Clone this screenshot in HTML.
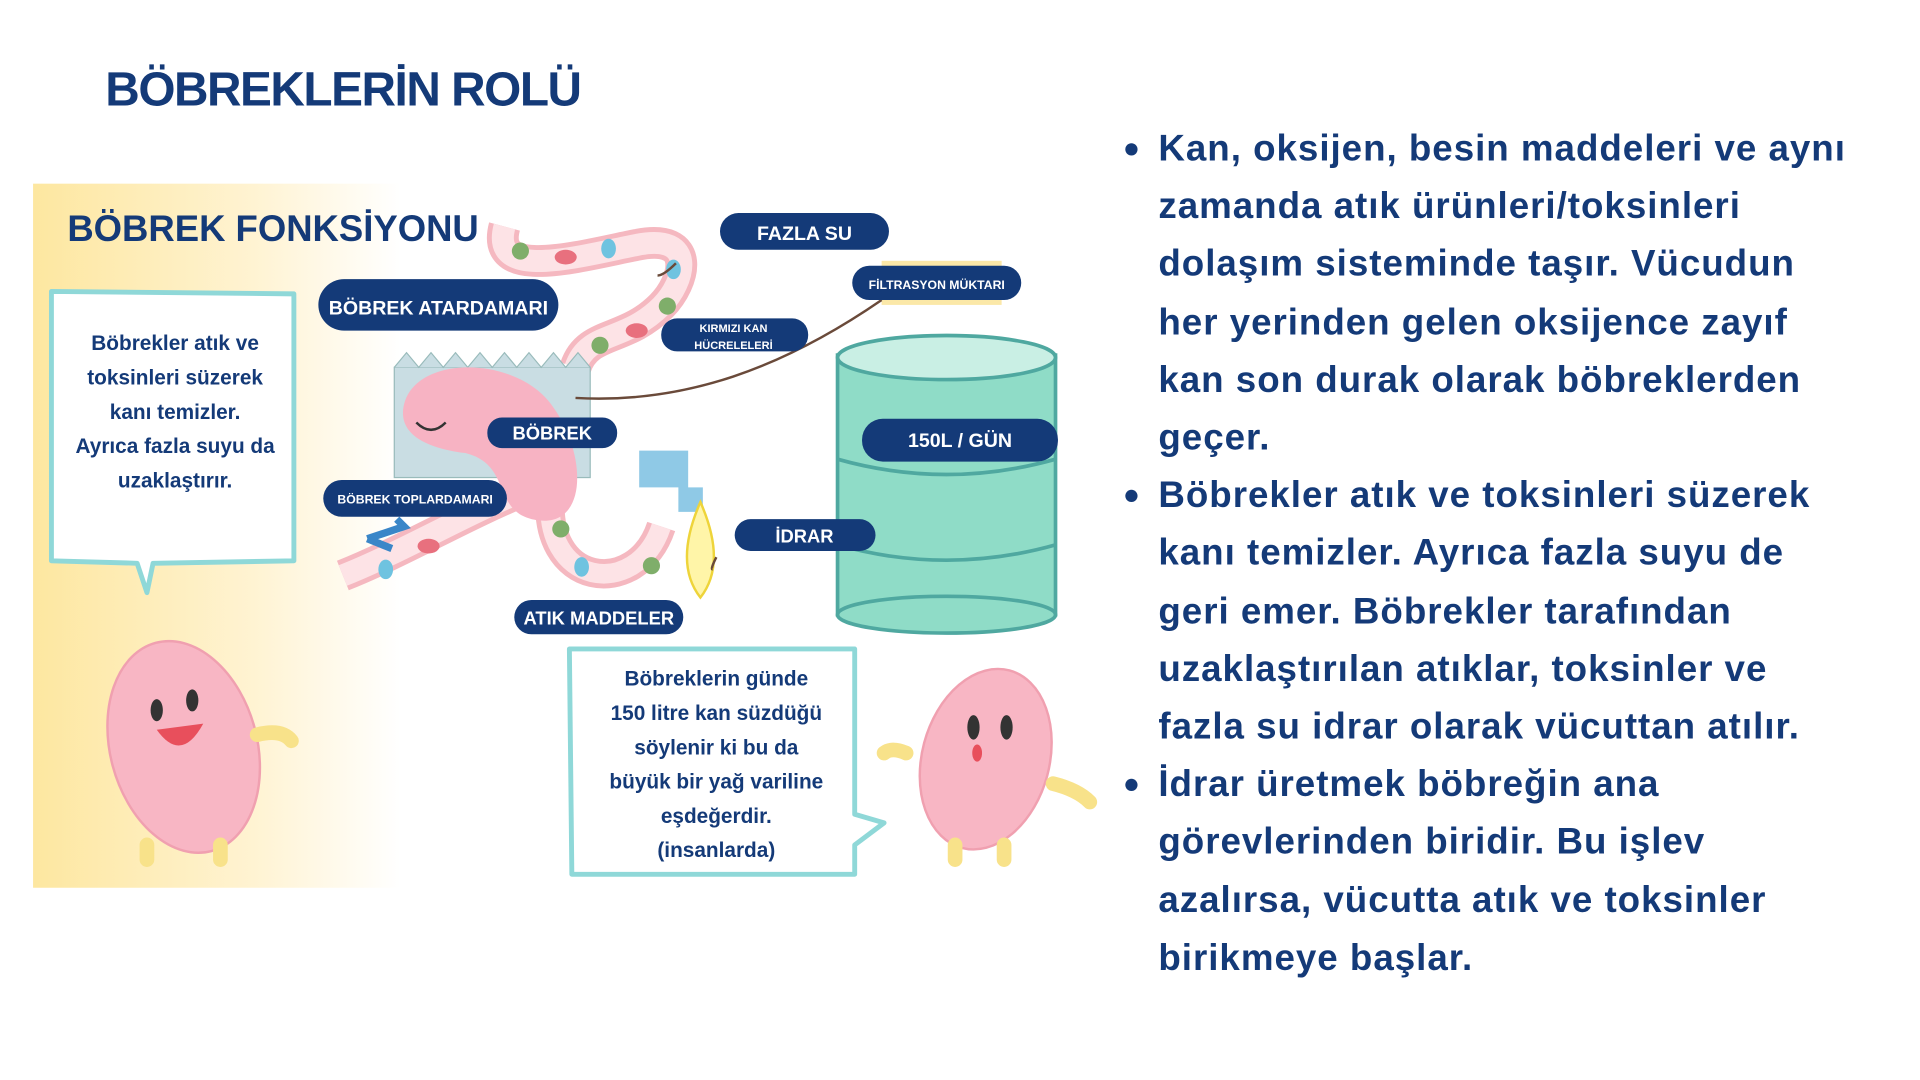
<!DOCTYPE html>
<html><head><meta charset="utf-8"><style>
html,body{margin:0;padding:0;background:#fff;overflow:hidden;width:1920px;height:1080px}
#w{position:absolute;left:0;top:0;width:1568px;height:882px;transform:scale(1.22449);transform-origin:0 0;font-family:"Liberation Sans",sans-serif;color:#143a78;font-weight:bold}
.t{position:absolute;white-space:nowrap}
#r{position:absolute;top:98px;font-size:30px;line-height:47.2px}
#r div{white-space:nowrap;letter-spacing:0.8px}
.b{position:relative}
.b:before{content:"";position:absolute;left:-27px;top:19px;width:10px;height:10px;border-radius:50%;background:#143a78}
</style></head><body><div id="w">
<div class="t" style="left:86px;top:52px;font-size:39px;letter-spacing:-1.2px">BÖBREKLERİN ROLÜ</div>
<div id="r" style="left:946px">
<div class="b">Kan, oksijen, besin maddeleri ve aynı</div>
<div>zamanda atık ürünleri/toksinleri</div>
<div>dolaşım sisteminde taşır. Vücudun</div>
<div>her yerinden gelen oksijence zayıf</div>
<div>kan son durak olarak böbreklerden</div>
<div>geçer.</div>
<div class="b">Böbrekler atık ve toksinleri süzerek</div>
<div>kanı temizler. Ayrıca fazla suyu de</div>
<div>geri emer. Böbrekler tarafından</div>
<div>uzaklaştırılan atıklar, toksinler ve</div>
<div>fazla su idrar olarak vücuttan atılır.</div>
<div class="b">İdrar üretmek böbreğin ana</div>
<div>görevlerinden biridir. Bu işlev</div>
<div>azalırsa, vücutta atık ve toksinler</div>
<div>birikmeye başlar.</div>
</div>
<svg style="position:absolute;left:0;top:0" width="920" height="882" viewBox="0 0 920 882">
<defs><linearGradient id="y" x1="0" x2="1"><stop offset="0" stop-color="#fde7a0"/><stop offset="0.6" stop-color="#fff3d2"/><stop offset="1" stop-color="#fff"/></linearGradient></defs>
<rect x="27" y="150" width="300" height="575" fill="url(#y)"/>
<path d="M412 185 C400 230 470 210 520 200 C570 190 560 230 540 250 C510 280 480 270 470 300" stroke="#f5b8c0" stroke-width="26" fill="none"/>
<path d="M412 185 C400 230 470 210 520 200 C570 190 560 230 540 250 C510 280 480 270 470 300" stroke="#fde3e6" stroke-width="18" fill="none"/>
<path d="M280 470 C330 450 380 420 430 400" stroke="#f5b8c0" stroke-width="26" fill="none"/>
<path d="M280 470 C330 450 380 420 430 400" stroke="#fde3e6" stroke-width="18" fill="none"/>
<path d="M450 400 C440 480 520 490 540 430" stroke="#f5b8c0" stroke-width="24" fill="none"/>
<path d="M450 400 C440 480 520 490 540 430" stroke="#fde3e6" stroke-width="16" fill="none"/>
<g fill="#7fae6a"><circle cx="425" cy="205" r="7"/><circle cx="545" cy="250" r="7"/><circle cx="490" cy="282" r="7"/><circle cx="458" cy="432" r="7"/><circle cx="532" cy="462" r="7"/></g>
<g fill="#e8707e"><ellipse cx="462" cy="210" rx="9" ry="6"/><ellipse cx="520" cy="270" rx="9" ry="6"/><ellipse cx="350" cy="446" rx="9" ry="6"/></g>
<g fill="#6fc3e0"><ellipse cx="497" cy="203" rx="6" ry="8"/><ellipse cx="550" cy="220" rx="6" ry="8"/><ellipse cx="315" cy="465" rx="6" ry="8"/><ellipse cx="475" cy="463" rx="6" ry="8"/></g>
<rect x="322" y="300" width="160" height="90" fill="#c9dde3" stroke="#9bb" />
<path d="M322 300 l10-12 10 12 10-12 10 12 10-12 10 12 10-12 10 12 10-12 10 12 10-12 10 12 10-12 10 12 10-12 10 12" fill="#c9dde3" stroke="#9bb"/>
<path d="M330 330 C340 290 420 290 450 330 C480 370 480 430 440 425 C400 420 420 380 380 370 C340 365 325 350 330 330Z" fill="#f7b3c3"/>
<path d="M340 345 q12 12 24 0" stroke="#333" stroke-width="2" fill="none"/>
<path d="M300 440 l30 -10 l-6 -6 M300 440 l20 8" stroke="#3a86c8" stroke-width="6" fill="none"/>
<rect x="684" y="290" width="178" height="212" fill="#8fdcc7" stroke="#4fa8a0" stroke-width="3"/>
<ellipse cx="773" cy="502" rx="89" ry="15" fill="#8fdcc7" stroke="#4fa8a0" stroke-width="3"/>
<ellipse cx="773" cy="292" rx="89" ry="18" fill="#c9efe4" stroke="#4fa8a0" stroke-width="3"/>
<path d="M684 375 q89 25 178 0 M684 445 q89 25 178 0" stroke="#4fa8a0" stroke-width="3" fill="none"/>
<rect x="720" y="213" width="98" height="36" fill="#fbe8a8"/>
<path d="M522 368 h40 v30 h12 v20 h-20 v-20 h-32z" fill="#8fc9e6"/>
<path d="M572 410 q-22 50 0 78 q22-28 0-78z" fill="#fff5a8" stroke="#eed43a" stroke-width="2"/>
<path d="M470 325 C560 330 640 300 720 245" stroke="#6a4a3a" stroke-width="2" fill="none"/>
<path d="M552 215 q-10 10 -15 10 M585 455 q-5 10 -3 10" stroke="#6a4a3a" stroke-width="2" fill="none"/>
<path d="M42 238 L240 240 L240 458 L125 460 L120 484 L112 460 L42 458Z" fill="#fff" stroke="#8fd8d8" stroke-width="4" stroke-linejoin="round"/>
<path d="M465 530 L698 530 L698 665 L722 672 L698 690 L698 714 L467 714Z" fill="#fff" stroke="#8fd8d8" stroke-width="4" stroke-linejoin="round"/>
<ellipse cx="150" cy="610" rx="60" ry="88" transform="rotate(-15 150 610)" fill="#f8b6c4" stroke="#f0a0b0" stroke-width="2"/>
<path d="M210 600 q20 -5 28 5" stroke="#f8e28a" stroke-width="12" fill="none" stroke-linecap="round"/>
<path d="M120 690 v12 M180 690 v12" stroke="#f8e28a" stroke-width="12" stroke-linecap="round"/>
<ellipse cx="128" cy="580" rx="5" ry="9" fill="#333"/><ellipse cx="157" cy="572" rx="5" ry="9" fill="#333"/>
<path d="M128 596 q20 28 38 -5z" fill="#e84f5c"/>
<ellipse cx="805" cy="620" rx="52" ry="75" transform="rotate(15 805 620)" fill="#f8b6c4" stroke="#f0a0b0" stroke-width="2"/>
<path d="M740 615 q-12 -5 -18 0 M860 640 q20 5 30 15" stroke="#f8e28a" stroke-width="12" fill="none" stroke-linecap="round"/>
<path d="M780 690 v12 M820 690 v12" stroke="#f8e28a" stroke-width="12" stroke-linecap="round"/>
<ellipse cx="795" cy="594" rx="5" ry="10" fill="#333"/><ellipse cx="822" cy="594" rx="5" ry="10" fill="#333"/>
<ellipse cx="798" cy="615" rx="4" ry="7" fill="#e84f5c"/>
<g fill="#143a78">
<rect x="588" y="174" width="138" height="30" rx="15"/>
<rect x="696" y="217" width="138" height="28" rx="14"/>
<rect x="260" y="228" width="196" height="42" rx="21"/>
<rect x="540" y="260" width="120" height="27" rx="13"/>
<rect x="398" y="341" width="106" height="25" rx="12"/>
<rect x="704" y="342" width="160" height="35" rx="17"/>
<rect x="264" y="392" width="150" height="30" rx="15"/>
<rect x="600" y="424" width="115" height="26" rx="13"/>
<rect x="420" y="490" width="138" height="28" rx="14"/>
</g>
<g fill="#fff" font-family="Liberation Sans,sans-serif" font-weight="bold" text-anchor="middle">
<text x="657" y="196" font-size="16">FAZLA SU</text>
<text x="765" y="236" font-size="10">FİLTRASYON MÜKTARI</text>
<text x="358" y="257" font-size="16">BÖBREK ATARDAMARI</text>
<text x="599" y="271" font-size="9">KIRMIZI KAN</text>
<text x="599" y="285" font-size="9">HÜCRELELERİ</text>
<text x="451" y="359" font-size="15">BÖBREK</text>
<text x="784" y="365" font-size="16">150L / GÜN</text>
<text x="339" y="411" font-size="10">BÖBREK TOPLARDAMARI</text>
<text x="657" y="443" font-size="15">İDRAR</text>
<text x="489" y="510" font-size="15">ATIK MADDELER</text>
</g>
<g fill="#143a78" font-family="Liberation Sans,sans-serif" font-weight="bold" text-anchor="middle" font-size="17">
<text x="55" y="197" font-size="30" text-anchor="start" textLength="336" lengthAdjust="spacingAndGlyphs">BÖBREK FONKSİYONU</text>
<text x="143" y="286">Böbrekler atık ve</text>
<text x="143" y="314">toksinleri süzerek</text>
<text x="143" y="342">kanı temizler.</text>
<text x="143" y="370">Ayrıca fazla suyu da</text>
<text x="143" y="398">uzaklaştırır.</text>
<text x="585" y="560">Böbreklerin günde</text>
<text x="585" y="588">150 litre kan süzdüğü</text>
<text x="585" y="616">söylenir ki bu da</text>
<text x="585" y="644">büyük bir yağ variline</text>
<text x="585" y="672">eşdeğerdir.</text>
<text x="585" y="700">(insanlarda)</text>
</g>
</svg>
</div></body></html>
